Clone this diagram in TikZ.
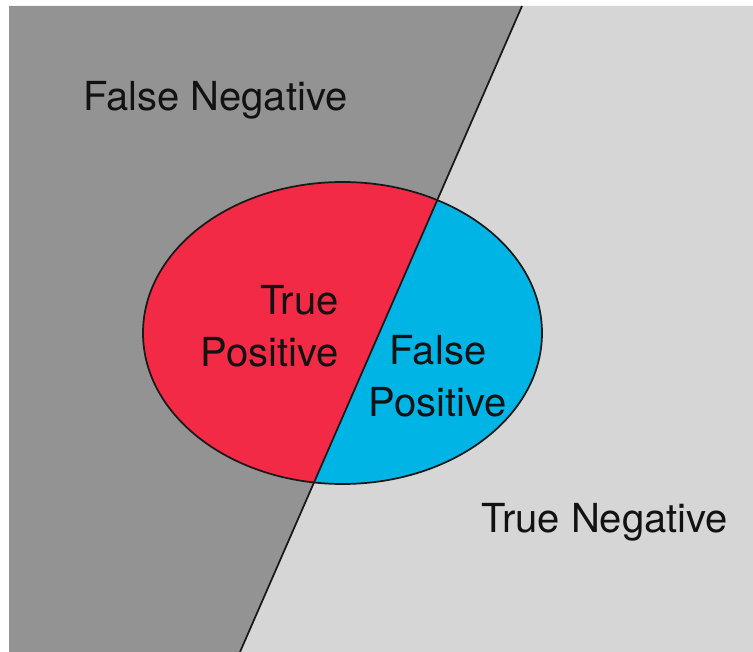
\documentclass[tikz,border=0pt]{standalone}
\usepackage{fontspec}
\setmainfont{TeX Gyre Heros}
\usetikzlibrary{positioning,calc}
\usepackage{xcolor}

\definecolor{fnGray}{HTML}{939393}
\definecolor{tnGray}{HTML}{D6D6D6}
\definecolor{tpRed}{HTML}{F22A46}
\definecolor{fpBlue}{HTML}{00B4E6}
\definecolor{inkBlack}{HTML}{121212}

\begin{document}
\begin{tikzpicture}[
  x=0.75pt, y=-0.75pt,
  bigfont/.style={font=\fontsize{30}{39}\selectfont, text=inkBlack, inner sep=0pt},
  border/.style={draw=black!90, line width=1.3pt},
]

% fixed frame, white margin on the left and top
\useasboundingbox[fill=white] (0,0) rectangle (753,652);

% ---- Background halves ----
\coordinate (topcut) at (522,6);
\coordinate (botcut) at (240,652);
\fill[fnGray] (9,6) -- (topcut) -- (botcut) -- (9,652) -- cycle;
\fill[tnGray] (topcut) -- (753,6) -- (753,652) -- (botcut) -- cycle;

% ---- Ellipse, split by the cut ----
\coordinate (ctr) at (342.5,333);
\begin{scope}
  \clip (9,6) -- (topcut) -- (botcut) -- (9,652) -- cycle;
  \fill[tpRed] (ctr) ellipse [x radius=199.5, y radius=151];
\end{scope}
\begin{scope}
  \clip (topcut) -- (753,6) -- (753,652) -- (botcut) -- cycle;
  \fill[fpBlue] (ctr) ellipse [x radius=199.5, y radius=151];
\end{scope}
\draw[border] (ctr) ellipse [x radius=199.5, y radius=151];
\draw[border] (topcut) -- (botcut);

% ---- Labels ----
\node[bigfont, anchor=base west] (fneg) at (83,111) {False Negative};
\node[bigfont, anchor=base west] (tneg) at (481,532) {True Negative};
\node[bigfont, anchor=north east, align=right] (tpos) at (339,285) {True\\Positive};
\node[bigfont, anchor=north, align=center] (fpos) at (438,335) {False\\Positive};

\end{tikzpicture}
\end{document}
